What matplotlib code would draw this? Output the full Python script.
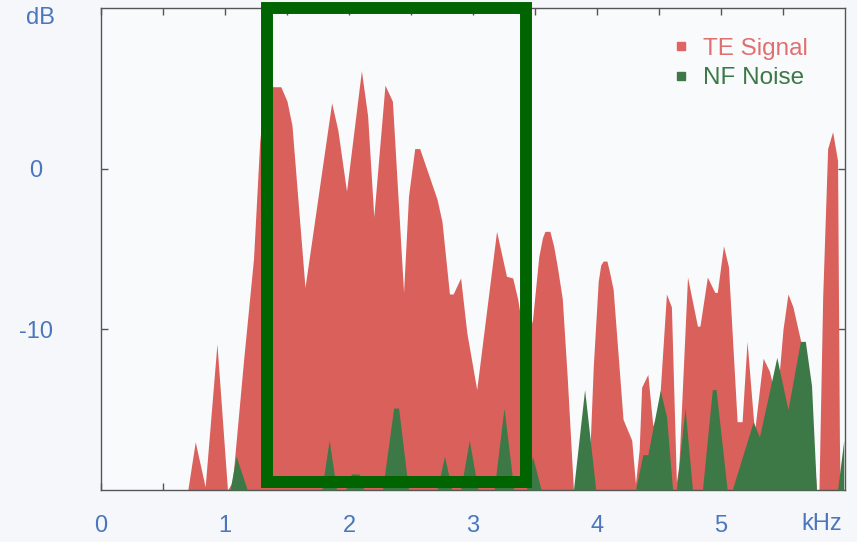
import numpy as np
import matplotlib
matplotlib.use("Agg")
import matplotlib.pyplot as plt
from matplotlib.patches import Rectangle
from matplotlib.lines import Line2D

plt.rcParams['font.family'] = ['Liberation Sans', 'DejaVu Sans']

# TE signal spectrum (kHz, dB)
te_khz = [0.10, 0.70, 0.76, 0.84, 0.935, 1.02, 1.06, 1.15, 1.23, 1.28, 1.33, 1.39, 1.45, 1.50, 1.54,
          1.645, 1.86, 1.91, 1.98, 2.10, 2.15, 2.20, 2.29, 2.35, 2.44, 2.48, 2.53, 2.57, 2.71, 2.75,
          2.81, 2.84, 2.90, 2.95, 3.03, 3.19, 3.27, 3.32, 3.36, 3.42, 3.48, 3.53, 3.56, 3.58, 3.62,
          3.65, 3.68, 3.72, 3.76, 3.81, 3.93, 3.97, 4.01, 4.03, 4.05, 4.08, 4.10, 4.13, 4.21, 4.28,
          4.31, 4.34, 4.36, 4.41, 4.45, 4.50, 4.56, 4.60, 4.64, 4.66, 4.73, 4.81, 4.83, 4.89, 4.95,
          4.97, 5.02, 5.06, 5.13, 5.17, 5.21, 5.27, 5.34, 5.39, 5.45, 5.50, 5.54, 5.58, 5.70, 5.77,
          5.79, 5.82, 5.86, 5.90, 5.94, 5.955, 5.96]
te_db = [-20, -20, -17.0, -19.8, -10.9, -20, -19.5, -11.9, -5.6, 1.7, 5.3, 5.1, 5.1, 4.2, 2.7,
         -7.4, 4.1, 2.4, -1.4, 6.1, 3.3, -3.0, 5.2, 4.2, -7.7, -1.7, 1.25, 1.25, -1.9, -3.3,
         -7.8, -7.8, -6.8, -10.2, -13.75, -3.9, -6.7, -6.8, -8.1, -11.0, -9.4, -5.5, -4.3, -3.9, -3.9,
         -4.8, -6.1, -8.1, -13.0, -20, -20, -12.3, -7.0, -6.0, -5.75, -5.75, -6.4, -7.5, -15.6, -16.9,
         -19.6, -17.5, -13.6, -12.8, -16.0, -15.0, -7.8, -8.6, -19.5, -18.5, -6.75, -9.8, -9.8, -6.75, -7.7,
         -7.7, -4.8, -6.1, -15.75, -15.75, -10.75, -16.4, -11.8, -12.6, -14.5, -10.0, -7.8, -8.6, -12.7, -20,
         -20, -8.0, 1.25, 2.3, 0.5, -17.0, -20]

# NF noise spectrum
nf_khz = [0.10, 1.04, 1.09, 1.18, 1.78, 1.84, 1.90, 1.97, 2.02, 2.08, 2.12, 2.27, 2.36, 2.40, 2.48,
          2.71, 2.77, 2.83, 2.90, 2.97, 3.04, 3.17, 3.25, 3.33, 3.43, 3.48, 3.55, 3.81, 3.90, 3.99,
          4.31, 4.37, 4.41, 4.51, 4.56, 4.61, 4.64, 4.71, 4.77, 4.85, 4.93, 4.96, 5.05, 5.09, 5.26,
          5.31, 5.45, 5.54, 5.64, 5.68, 5.73, 5.77, 5.94, 5.99]
nf_db = [-20, -20, -17.9, -20, -20, -16.9, -20, -20, -19.0, -19.0, -20, -20, -14.9, -14.9, -20,
         -20, -17.9, -20, -20, -16.9, -20, -20, -14.9, -20, -20, -17.9, -20, -20, -13.75, -20,
         -20, -17.8, -17.8, -13.8, -15.4, -20, -20, -14.9, -20, -20, -13.75, -13.75, -20, -20, -15.75,
         -16.7, -11.75, -15.0, -10.75, -10.75, -13.5, -20, -20, -16.9]

x_labels = ['0', '1', '2', '3', '4', '5']
y_ticks = [0, -10]
box_khz = (1.339, 3.427)
box_db = (-19.5, 10.0)

red = '#da605c'
green = '#3d7946'
blue = '#4a76be'

fig = plt.figure(figsize=(8.57, 5.42), dpi=100, facecolor='#f5f7fa')
ax = fig.add_axes([101 / 857, 1 - 490 / 542, 744 / 857, 482 / 542])
ax.set_facecolor('#f9fafc')

ax.fill_between(te_khz, te_db, -20, color=red, lw=0, zorder=2)
ax.fill_between(nf_khz, nf_db, -20, color=green, lw=0, zorder=3)

ax.add_patch(Rectangle((box_khz[0], box_db[0]), box_khz[1] - box_khz[0], box_db[1] - box_db[0],
                       fill=False, ec='#006400', lw=8.6, joinstyle='miter', clip_on=False, zorder=5))

ax.set_xlim(0, 6)
ax.set_ylim(-20, 10)
ax.set_xticks(range(len(x_labels)))
ax.set_xticklabels(x_labels)
ax.set_xticks(np.arange(0.5, 6, 1.0), minor=True)
ax.set_yticks(y_ticks)
ax.set_yticklabels([str(v) for v in y_ticks], ha='center')
ax.tick_params(which='both', direction='in', length=5, width=1, color='#555555',
               top=True, right=True, labelsize=17, labelcolor=blue)
ax.tick_params(axis='x', pad=18)
ax.tick_params(axis='y', pad=47)
for s in ax.spines.values():
    s.set_color('#555555')
    s.set_linewidth(1)

ax.text(5.81, -0.07, 'kHz', transform=ax.get_xaxis_transform(), ha='center', va='center',
        fontsize=17, color=blue)
fig.text(40 / 857, 1 - 18 / 542, 'dB', ha='center', va='center', fontsize=17, color=blue)

handles = [Line2D([], [], marker='s', ls='', color='#e06464', ms=6),
           Line2D([], [], marker='s', ls='', color=green, ms=6)]
ax.legend(handles, ['TE Signal', 'NF Noise'], loc='upper right', bbox_to_anchor=(0.963, 0.958),
          frameon=False, fontsize=17.5, labelcolor=['#e07070', green], handletextpad=0.4,
          handlelength=1.0, labelspacing=0.3, borderaxespad=0)

fig.savefig('out.png', dpi=100, facecolor=fig.get_facecolor())
